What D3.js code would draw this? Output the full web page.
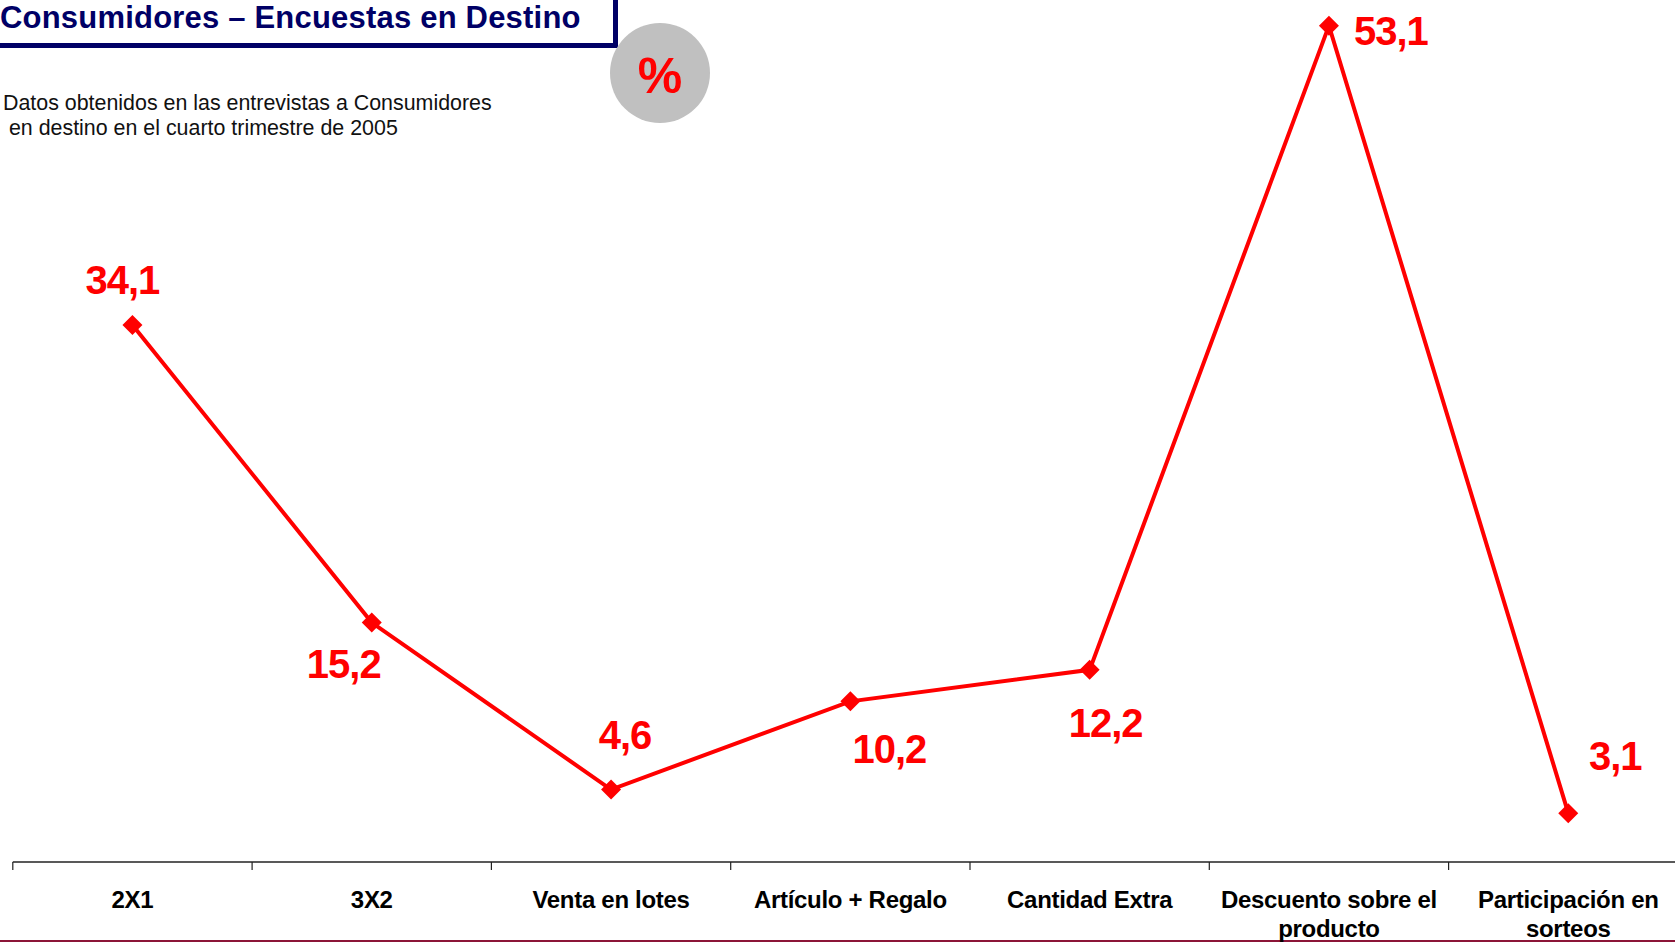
<!DOCTYPE html>
<html>
<head>
<meta charset="utf-8">
<script src="https://cdn.jsdelivr.net/npm/d3@7"></script>
<style>
  html, body { margin: 0; padding: 0; background: #fff; overflow: hidden; }
  svg { display: block; }
</style>
</head>
<body>
<svg id="chart" width="1675" height="942"></svg>
<script>
// ---- data ----
const categories = ["2X1", "3X2", "Venta en lotes", "Artículo + Regalo", "Cantidad Extra", "Descuento sobre el producto", "Participación en sorteos"];
const categoryLines = [["2X1"], ["3X2"], ["Venta en lotes"], ["Artículo + Regalo"], ["Cantidad Extra"], ["Descuento sobre el", "producto"], ["Participación en", "sorteos"]];
const values = [34.1, 15.2, 4.6, 10.2, 12.2, 53.1, 3.1];
const valueLabels = ["34,1", "15,2", "4,6", "10,2", "12,2", "53,1", "3,1"];
const titleText = "Consumidores – Encuestas en Destino";
const subtitleLines = ["Datos obtenidos en las entrevistas a Consumidores", " en destino en el cuarto trimestre de 2005"];
const unitText = "%";

// ---- layout (label offsets relative to the marker) ----
const labelOffsets = [[-10, -30.5], [-28, 55.5], [14, -40.5], [39, 61.5], [16, 67.5], [62, 19.5], [47, -43.5]];

const svg = d3.select("#chart");
const FONT = "'Liberation Sans', Arial, Helvetica, sans-serif";

const x = d3.scaleBand().domain(categories).range([12.8, 12.8 + 7 * 239.3]).padding(0);
const y = d3.scaleLinear().domain([0, 55]).range([862, 862 - 55 * 15.75]);

// bottom maroon line
svg.append("line").attr("x1", 0).attr("x2", 1675).attr("y1", 941).attr("y2", 941)
  .attr("stroke", "#8c1538").attr("stroke-width", 2);

// axis line + ticks (ticks on category boundaries)
const axisG = svg.append("g");
axisG.append("line").attr("x1", x.range()[0]).attr("x2", x.range()[1]).attr("y1", y(0)).attr("y2", y(0))
  .attr("stroke", "#222").attr("stroke-width", 1.5);
axisG.selectAll("line.tick").data(categories).enter().append("line").attr("class", "tick")
  .attr("x1", d => x(d)).attr("x2", d => x(d)).attr("y1", y(0)).attr("y2", y(0) + 8)
  .attr("stroke", "#222").attr("stroke-width", 1.2);

// category labels
const catG = axisG.selectAll("text.cat").data(categories).enter().append("text").attr("class", "cat")
  .attr("x", d => x(d) + x.bandwidth() / 2)
  .attr("y", 908)
  .attr("text-anchor", "middle")
  .attr("font-family", FONT).attr("font-weight", "bold").attr("font-size", "24px")
  .attr("letter-spacing", "-0.3px")
  .attr("fill", "#000");
catG.each(function(d, i) {
  const t = d3.select(this);
  categoryLines[i].forEach((ln, j) => {
    t.append("tspan").attr("x", x(d) + x.bandwidth() / 2).attr("dy", j === 0 ? 0 : 29).text(ln);
  });
});

// line
const line = d3.line().x((d, i) => x(categories[i]) + x.bandwidth() / 2).y(d => y(d));
svg.append("path").datum(values).attr("d", line)
  .attr("fill", "none").attr("stroke", "#ff0000").attr("stroke-width", 4).attr("stroke-linejoin", "miter");

// diamond markers
const diamond = "M0,-10L10,0L0,10L-10,0Z";
svg.selectAll("path.mk").data(values).enter().append("path").attr("class", "mk")
  .attr("d", diamond)
  .attr("transform", (d, i) => `translate(${x(categories[i]) + x.bandwidth() / 2},${y(d)})`)
  .attr("fill", "#ff0000");

// value labels
svg.selectAll("text.val").data(values).enter().append("text").attr("class", "val")
  .attr("x", (d, i) => x(categories[i]) + x.bandwidth() / 2 + labelOffsets[i][0])
  .attr("y", (d, i) => y(d) + labelOffsets[i][1])
  .attr("text-anchor", "middle")
  .attr("font-family", FONT).attr("font-weight", "bold").attr("font-size", "40px")
  .attr("letter-spacing", "-1px")
  .attr("fill", "#ff0000")
  .text((d, i) => valueLabels[i]);

// title box
svg.append("rect").attr("x", -10).attr("y", -10).attr("width", 625.5).attr("height", 55.5)
  .attr("fill", "#fff").attr("stroke", "#000066").attr("stroke-width", 5);
svg.append("text").attr("x", 0).attr("y", 28.2)
  .attr("font-family", FONT).attr("font-weight", "bold").attr("font-size", "31px")
  .attr("letter-spacing", "0.2px")
  .attr("fill", "#000066").text(titleText);

// % circle
svg.append("circle").attr("cx", 660).attr("cy", 73).attr("r", 50).attr("fill", "#c0c0c0");
svg.append("text").attr("x", 660).attr("y", 93).attr("text-anchor", "middle")
  .attr("font-family", FONT).attr("font-weight", "bold").attr("font-size", "50px")
  .attr("fill", "#ff0000").text(unitText);

// subtitle
svg.append("text").attr("font-family", FONT).attr("font-size", "21.4px").attr("fill", "#111")
  .attr("xml:space", "preserve").style("white-space", "pre")
  .selectAll("tspan").data(subtitleLines).enter().append("tspan")
  .attr("x", 3).attr("y", (d, i) => 110 + i * 25).text(d => d);
</script>
</body>
</html>
